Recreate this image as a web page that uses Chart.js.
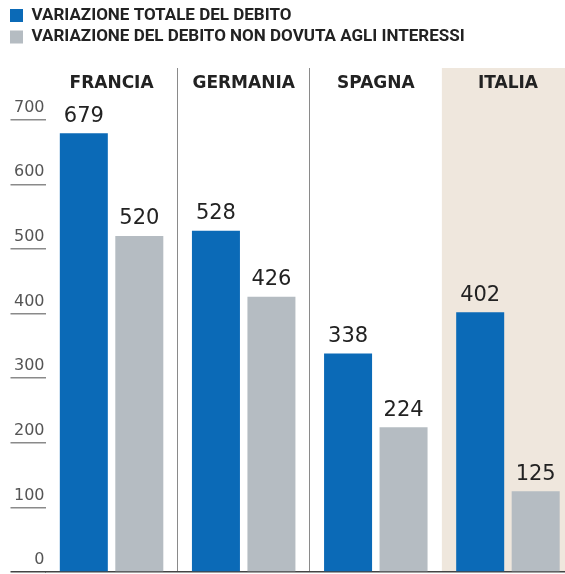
<!DOCTYPE html>
<html>
<head>
<meta charset="utf-8">
<script src="https://cdn.jsdelivr.net/npm/chart.js@4.4.1/dist/chart.umd.min.js"></script>
<style>
  html, body { margin: 0; padding: 0; overflow: hidden; background: #fff; }
  #contenitore { width: 574px; height: 574px; }
</style>
</head>
<body>
<div id="contenitore"><canvas id="grafico"></canvas></div>
<script>
const paesi = ['FRANCIA', 'GERMANIA', 'SPAGNA', 'ITALIA'];
const variazioneTotale = [679, 528, 338, 402];
const variazioneNoInteressi = [520, 426, 224, 125];
const tickY = [0, 100, 200, 300, 400, 500, 600, 700];

const BLU = '#0b6ab7';
const GRIGIO = '#b5bcc2';
const BEIGE = '#efe7dd';

// sfondo beige dietro l'ultima colonna (Italia)
const sfondoItalia = {
    id: 'sfondoItalia',
    beforeDraw(chart) {
        const { ctx, chartArea } = chart;
        const x = chart.scales.x;
        const larg = x.getPixelForValue(1) - x.getPixelForValue(0);
        const inizio = x.getPixelForValue(paesi.length - 1) - larg / 2;
        ctx.save();
        ctx.fillStyle = BEIGE;
        ctx.fillRect(inizio, chartArea.top, chartArea.right - inizio, chartArea.bottom - chartArea.top);
        ctx.restore();
    }
};

// numeri sopra le barre
const etichetteValori = {
    id: 'etichetteValori',
    afterDatasetsDraw(chart) {
        const { ctx } = chart;
        ctx.save();
        ctx.font = '21px "DejaVu Sans"';
        ctx.fillStyle = '#222';
        ctx.textAlign = 'center';
        ctx.textBaseline = 'bottom';
        chart.data.datasets.forEach((ds, i) => {
            chart.getDatasetMeta(i).data.forEach((barra, j) => {
                ctx.fillText(String(ds.data[j]), barra.x, barra.y - 6.5);
            });
        });
        ctx.restore();
    }
};

const ctx = document.getElementById('grafico').getContext('2d');

new Chart(ctx, {
    type: 'bar',
    data: {
        labels: paesi,
        datasets: [
            {
                label: 'VARIAZIONE TOTALE DEL DEBITO',
                data: variazioneTotale,
                backgroundColor: BLU,
                borderWidth: 0
            },
            {
                label: 'VARIAZIONE DEL DEBITO NON DOVUTA AGLI INTERESSI',
                data: variazioneNoInteressi,
                backgroundColor: GRIGIO,
                borderWidth: 0
            }
        ]
    },
    options: {
        responsive: true,
        maintainAspectRatio: false,
        animation: false,
        events: [],
        categoryPercentage: 0.84,
        barPercentage: 0.865,
        layout: { padding: { left: 5.5, right: 0, top: 2.5, bottom: 0 } },
        plugins: {
            tooltip: { enabled: false },
            legend: {
                position: 'top',
                align: 'start',
                labels: {
                    boxWidth: 13,
                    boxHeight: 13,
                    padding: 4.5,
                    color: '#222',
                    font: { family: '"Liberation Sans Narrow", Roboto, sans-serif', weight: 'bold', size: 17 }
                }
            }
        },
        scales: {
            x: {
                position: 'top',
                offset: true,
                grid: {
                    offset: true,
                    drawTicks: false,
                    lineWidth: 1,
                    color: c => (c.index === 1 || c.index === 2) ? '#8a8a8a' : 'rgba(0,0,0,0)'
                },
                border: { display: false },
                ticks: {
                    mirror: true,
                    padding: 5,
                    color: '#222',
                    font: { family: '"DejaVu Sans"', weight: 'bold', size: 17 }
                },
                afterFit: s => { s.height = 12.5; }
            },
            x2: {
                type: 'category',
                labels: paesi,
                position: 'bottom',
                grid: { display: false, drawTicks: false },
                ticks: { display: false },
                border: { display: true, color: '#444', width: 1.5 },
                afterFit: s => { s.height = 2; }
            },
            y: {
                min: 0,
                max: 780,
                grid: {
                    drawOnChartArea: false,
                    drawTicks: true,
                    tickLength: 35,
                    lineWidth: 1.5,
                    color: c => c.tick && c.tick.value === 0 ? '#444' : '#8a8a8a'
                },
                border: { display: false },
                ticks: {
                    padding: -34,
                    labelOffset: -12,
                    color: '#555',
                    font: { family: '"DejaVu Sans"', size: 16 }
                },
                afterBuildTicks: s => { s.ticks = tickY.map(v => ({ value: v })); },
                afterFit: s => { s.width = 40; }
            }
        }
    },
    plugins: [sfondoItalia, etichetteValori]
});
</script>
</body>
</html>
